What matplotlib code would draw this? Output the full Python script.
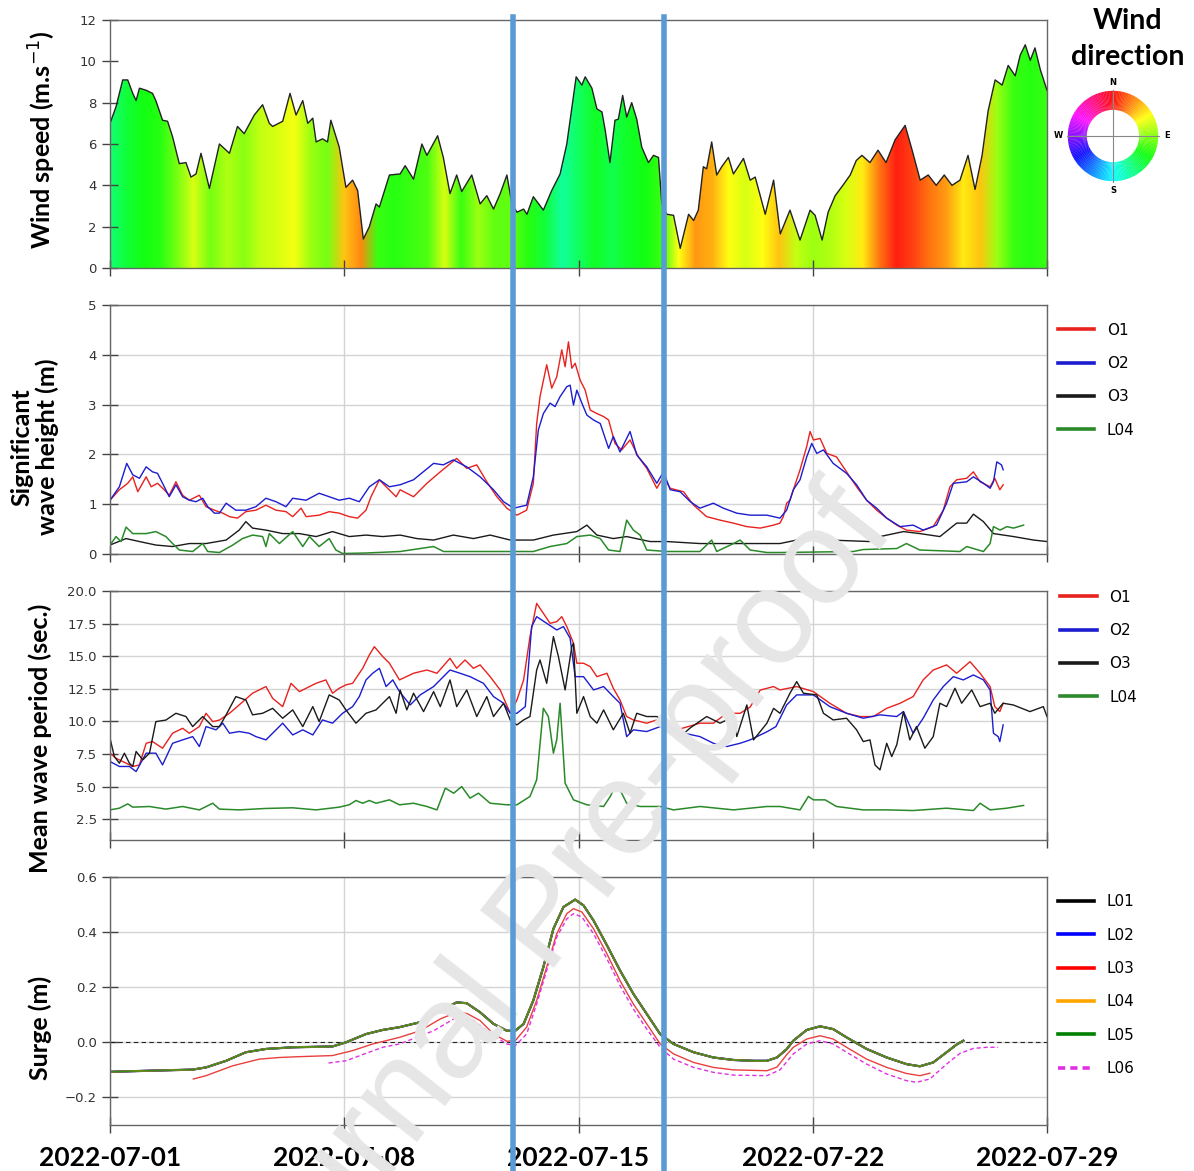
import numpy as np
import matplotlib
matplotlib.use("Agg")
import matplotlib.pyplot as plt
import matplotlib.dates as mdates
from matplotlib.colors import hsv_to_rgb
from matplotlib.patches import Polygon, Wedge
from matplotlib.lines import Line2D

# ---------------- data (days after 2022-07-01 00:00) ----------------
wind_day = [0.0, 0.18, 0.38, 0.53, 0.68, 0.78, 0.88, 1.08, 1.27, 1.37, 1.57, 1.72, 1.87, 2.07, 2.27,
            2.42, 2.57, 2.72, 2.97, 3.27, 3.57, 3.81, 4.01, 4.31, 4.56, 4.76, 4.86, 5.16, 5.38, 5.56,
            5.76, 5.91, 6.06, 6.16, 6.35, 6.5, 6.6, 6.85, 7.05, 7.25, 7.4, 7.57, 7.75, 7.95, 8.05,
            8.35, 8.67, 8.82, 9.07, 9.32, 9.47, 9.79, 9.96, 10.16, 10.36, 10.51, 10.81, 11.06, 11.26,
            11.46, 11.66, 11.86, 12.01, 12.16, 12.36, 12.46, 12.65, 12.95, 13.2, 13.45, 13.65, 13.93,
            14.1, 14.2, 14.4, 14.55, 14.7, 14.8, 14.94, 15.09, 15.19, 15.32, 15.44, 15.59, 15.74,
            15.89, 16.09, 16.24, 16.39, 16.49, 16.64, 16.84, 17.04, 17.29, 17.44, 17.58, 17.73,
            17.83, 17.98, 18.13, 18.28, 18.48, 18.63, 18.93, 19.13, 19.28, 19.58, 19.83, 20.03,
            20.32, 20.62, 20.92, 21.07, 21.28, 21.46, 21.67, 21.9, 22.12, 22.3, 22.47, 22.71, 22.95,
            23.19, 23.46, 23.76, 23.97, 24.21, 24.45, 24.69, 24.93, 25.16, 25.4, 25.64, 25.85, 26.06,
            26.24, 26.45, 26.66, 26.84, 27.05, 27.2, 27.35, 27.5, 27.64, 27.8, 27.9, 28.0]
wind_speed = [7.0, 7.8, 9.1, 9.1, 8.45, 8.1, 8.7, 8.6, 8.45, 8.1, 7.15, 7.1, 6.35, 5.05, 5.1,
              4.4, 4.55, 5.55, 3.85, 6.0, 5.55, 6.85, 6.5, 7.4, 7.9, 7.0, 6.85, 7.1, 8.45, 7.4,
              8.1, 7.0, 7.25, 6.1, 6.25, 6.1, 7.15, 5.85, 3.9, 4.25, 3.75, 1.4, 2.0, 3.1, 2.95,
              4.5, 4.55, 4.95, 4.3, 6.0, 5.45, 6.4, 5.35, 3.6, 4.5, 3.7, 4.5, 3.1, 3.5,
              2.85, 3.6, 4.5, 3.1, 2.7, 2.85, 2.6, 3.45, 2.8, 3.75, 4.55, 6.0, 9.25,
              8.85, 9.25, 8.7, 7.7, 7.55, 6.65, 5.1, 7.15, 7.2, 8.35, 7.3, 8.0, 7.2,
              5.85, 5.1, 5.45, 5.35, 3.1, 2.6, 2.55, 0.95, 2.6, 2.3, 2.8, 4.9,
              4.8, 6.1, 4.5, 4.9, 5.35, 4.55, 5.3, 4.25, 4.4, 2.6, 4.25, 1.65,
              2.8, 1.35, 2.8, 2.55, 1.35, 2.7, 3.5, 4.0, 4.5, 5.2, 5.45, 5.1, 5.7,
              5.1, 6.2, 6.9, 5.7, 4.25, 4.5, 4.0, 4.5, 4.0, 4.25, 5.45, 3.8, 5.45,
              7.6, 9.1, 8.85, 9.8, 9.3, 10.3, 10.8, 10.05, 10.65, 9.6, 9.1, 8.6]

# wind direction (deg from north), every 12 h
dir_day = np.arange(0, 28.5, 0.5)
wind_dir = [145, 130, 120, 115, 95, 70, 95, 80, 90, 75, 70, 62, 85, 95, 45, 30, 110, 115, 110, 105,
            70, 110, 85, 100, 100, 115, 130, 155, 140, 125, 135, 125, 120, 110, 60, 34, 40, 60, 70, 60,
            45, 75, 85, 80, 70, 55, 25, 3, 12, 25, 35, 55, 45, 85, 110, 115, 110]

# significant wave height (m)
hs_o1_day = [0, 0.28, 0.53, 0.68, 0.83, 1.08, 1.23, 1.42, 1.62, 1.77, 1.97, 2.17, 2.37, 2.67, 2.87,
             3.12, 3.37, 3.57, 3.81, 4.06, 4.36, 4.66, 4.96, 5.26, 5.46, 5.71, 5.86, 6.25, 6.55, 6.85,
             7.15, 7.4, 7.65, 7.8, 8.05, 8.25, 8.55, 8.67, 9.07, 9.47, 9.87, 10.36, 10.66, 10.96,
             11.26, 11.56, 11.86, 12.16, 12.45, 12.65, 12.75, 12.85, 13.05, 13.2, 13.35, 13.5, 13.6,
             13.7, 13.8, 13.9, 14.05, 14.2, 14.35, 14.55, 14.75, 14.9, 15.09, 15.29, 15.54, 15.79,
             16.04, 16.34, 16.54, 16.74, 17.14, 17.44, 17.83, 18.23, 18.63, 19.03, 19.43, 19.83,
             20.02, 20.12, 20.22, 20.32, 20.42, 20.62, 20.82, 20.92, 21.02, 21.22, 21.42, 21.71,
             22.01, 22.31, 22.61, 22.91, 23.21, 23.51, 23.8, 24.2, 24.6, 24.9, 25.1, 25.3, 25.6,
             25.8, 26.0, 26.3, 26.44, 26.59, 26.69]
hs_o1 = [1.08, 1.29, 1.42, 1.55, 1.25, 1.55, 1.35, 1.42, 1.29, 1.18, 1.45, 1.18, 1.08, 1.18, 0.95,
         0.88, 0.82, 0.75, 0.72, 0.85, 0.88, 0.98, 0.88, 0.85, 0.75, 0.92, 0.75, 0.78, 0.85, 0.82,
         0.75, 0.72, 0.88, 1.15, 1.49, 1.35, 1.15, 1.29, 1.15, 1.42, 1.65, 1.92, 1.72, 1.79,
         1.45, 1.15, 0.92, 0.78, 0.88, 1.42, 2.62, 3.16, 3.8, 3.33, 3.56, 4.1, 3.76,
         4.26, 3.73, 3.83, 3.49, 3.29, 2.89, 2.82, 2.76, 2.69, 2.22, 2.09, 2.29, 1.95,
         1.72, 1.32, 1.55, 1.32, 1.25, 0.98, 0.75, 0.68, 0.62, 0.55, 0.52, 0.58,
         0.62, 0.75, 1.02, 1.08, 1.29, 1.69, 2.16, 2.46, 2.29, 2.32, 2.02, 1.95,
         1.65, 1.35, 1.08, 0.88, 0.72, 0.58, 0.48, 0.45, 0.55, 0.88, 1.35, 1.49, 1.52,
         1.65, 1.45, 1.35, 1.52, 1.29, 1.39]

hs_o2_day = [0, 0.28, 0.5, 0.68, 0.88, 1.08, 1.27, 1.42, 1.57, 1.77, 1.97, 2.17, 2.37, 2.57, 2.77,
             2.92, 3.12, 3.27, 3.47, 3.76, 4.06, 4.36, 4.66, 4.96, 5.26, 5.46, 5.86, 6.25, 6.55,
             6.85, 7.15, 7.45, 7.75, 8.05, 8.35, 8.67, 9.07, 9.67, 9.96, 10.26, 10.66, 11.06, 11.46,
             11.76, 12.06, 12.45, 12.65, 12.8, 12.95, 13.15, 13.3, 13.45, 13.65, 13.75, 13.85, 13.95,
             14.1, 14.25, 14.45, 14.65, 14.9, 15.04, 15.24, 15.54, 15.74, 16.04, 16.34, 16.54, 16.74,
             17.04, 17.34, 17.63, 18.03, 18.33, 18.73, 19.13, 19.63, 20.02, 20.22, 20.42, 20.62,
             20.82, 20.97, 21.12, 21.32, 21.61, 22.01, 22.31, 22.61, 22.91, 23.21, 23.61, 24.0, 24.3,
             24.7, 25.0, 25.2, 25.6, 25.8, 26.1, 26.3, 26.4, 26.5, 26.64, 26.69]
hs_o2 = [1.08, 1.35, 1.82, 1.59, 1.52, 1.75, 1.65, 1.62, 1.42, 1.15, 1.39, 1.15, 1.08, 1.05, 1.12,
         0.95, 0.82, 0.82, 1.02, 0.88, 0.88, 0.95, 1.12, 1.05, 0.95, 1.12, 1.08, 1.22, 1.15,
         1.08, 1.12, 1.05, 1.35, 1.49, 1.35, 1.39, 1.49, 1.82, 1.79, 1.89, 1.75, 1.55, 1.29,
         1.05, 0.92, 0.98, 1.55, 2.49, 2.82, 3.03, 2.96, 3.16, 3.36, 3.39, 2.99, 3.29,
         3.03, 2.79, 2.69, 2.62, 2.12, 2.36, 2.05, 2.46, 1.99, 1.75, 1.42, 1.65, 1.29,
         1.25, 1.05, 0.92, 1.02, 0.92, 0.82, 0.78, 0.78, 0.72, 0.88, 1.29, 1.49,
         1.95, 2.22, 2.02, 2.09, 1.82, 1.62, 1.39, 1.08, 0.92, 0.72, 0.55, 0.58, 0.48,
         0.58, 1.02, 1.42, 1.45, 1.55, 1.42, 1.32, 1.45, 1.85, 1.79, 1.69]

hs_o3_day = [0, 0.48, 0.88, 1.37, 1.87, 2.37, 2.87, 3.47, 3.86, 4.06, 4.26, 4.66, 5.16, 5.66, 6.16,
             6.65, 7.15, 7.65, 8.15, 8.67, 9.17, 9.67, 10.26, 10.86, 11.36, 11.96, 12.65, 13.25,
             13.95, 14.25, 14.55, 15.04, 15.44, 16.14, 16.64, 17.63, 18.63, 19.63, 20.02, 21.02,
             21.51, 22.71, 23.01, 23.71, 24.2, 24.8, 25.3, 25.6, 25.8, 26.1, 26.4, 27.0, 27.6, 28.0]
hs_o3 = [0.18, 0.31, 0.25, 0.18, 0.15, 0.21, 0.21, 0.28, 0.48, 0.65, 0.52, 0.48, 0.41, 0.41, 0.35,
         0.45, 0.35, 0.38, 0.35, 0.38, 0.31, 0.28, 0.38, 0.31, 0.38, 0.28, 0.28, 0.38,
         0.45, 0.58, 0.38, 0.31, 0.35, 0.25, 0.25, 0.21, 0.21, 0.21, 0.21, 0.35,
         0.28, 0.25, 0.35, 0.45, 0.41, 0.35, 0.62, 0.62, 0.8, 0.65, 0.41, 0.35, 0.28, 0.25]

hs_l04_day = [0, 0.18, 0.33, 0.48, 0.68, 1.08, 1.37, 1.67, 1.87, 2.07, 2.47, 2.77, 2.92, 3.27, 3.67,
              3.96, 4.26, 4.56, 4.66, 4.76, 5.06, 5.46, 5.76, 5.96, 6.25, 6.55, 6.75, 6.95, 7.65,
              8.67, 9.67, 9.97, 11.16, 12.65, 13.15, 13.65, 13.95, 14.35, 14.65, 14.9, 15.24, 15.44,
              15.64, 15.84, 16.04, 16.64, 17.63, 17.98, 18.13, 18.63, 18.83, 19.13, 19.63, 20.02,
              22.21, 22.51, 23.51, 23.8, 24.2, 25.4, 25.6, 26.1, 26.3, 26.4, 26.6, 26.8, 27.0, 27.3]
hs_l04 = [0.18, 0.35, 0.25, 0.54, 0.41, 0.41, 0.45, 0.35, 0.21, 0.08, 0.05, 0.21, 0.05, 0.03, 0.18,
          0.31, 0.38, 0.35, 0.15, 0.41, 0.21, 0.45, 0.15, 0.35, 0.15, 0.31, 0.08, 0.01, 0.02,
          0.05, 0.15, 0.05, 0.05, 0.05, 0.15, 0.21, 0.35, 0.38, 0.31, 0.08, 0.05, 0.68,
          0.48, 0.38, 0.08, 0.05, 0.05, 0.28, 0.05, 0.21, 0.28, 0.08, 0.03, 0.03,
          0.05, 0.09, 0.11, 0.21, 0.08, 0.05, 0.15, 0.05, 0.21, 0.55, 0.48, 0.55, 0.52, 0.58]

# mean wave period (s)
tm_o1_day = [0, 0.18, 0.38, 0.68, 0.88, 1.08, 1.27, 1.57, 1.87, 2.17, 2.37, 2.67, 2.87, 3.07, 3.27,
             3.57, 3.86, 4.26, 4.66, 4.86, 5.16, 5.41, 5.66, 5.86, 6.16, 6.45, 6.65, 6.85, 7.05,
             7.25, 7.55, 7.75, 7.9, 8.15, 8.35, 8.65, 9.07, 9.47, 9.77, 10.16, 10.36, 10.61, 10.86,
             11.06, 11.36, 11.66, 11.96, 12.16, 12.36, 12.55, 12.75, 12.95, 13.15, 13.35, 13.5,
             13.65, 13.85, 13.95, 14.15, 14.35, 14.55, 14.85, 15.04, 15.24, 15.44, 15.64, 16.04,
             16.34, 16.64, 16.94, 17.63, 18.03, 18.43, 18.83, 19.13, 19.43, 19.83, 20.02, 20.52,
             21.02, 21.51, 22.01, 22.41, 22.81, 23.21, 23.61, 24.0, 24.3, 24.6, 25.0, 25.3, 25.7,
             26.0, 26.3, 26.44, 26.59, 26.69]
tm_o1 = [7.56, 7.17, 6.92, 6.54, 6.66, 8.32, 8.45, 7.94, 9.09, 9.47, 9.09, 9.6, 10.62, 9.98, 10.1,
         10.62, 11.26, 12.16, 12.67, 11.77, 11.13, 12.92, 12.28, 12.54, 12.92, 13.18, 12.16, 12.54, 12.8,
         12.92, 14.07, 15.09, 15.73, 14.97, 14.46, 13.18, 13.69, 13.94, 13.69, 14.84, 14.07, 14.71, 14.07,
         14.33, 13.43, 12.41, 10.62, 11.64, 13.18, 16.5, 19.05, 18.29, 17.52, 17.65, 18.03,
         17.27, 15.99, 14.46, 14.46, 14.2, 13.43, 13.69, 12.54, 11.64, 10.37, 10.11, 9.86,
         10.11, 9.6, 9.35, 9.86, 9.86, 10.62, 10.62, 11.1, 12.4, 12.67, 12.41, 12.67,
         12.28, 11.39, 10.62, 10.37, 10.37, 11.0, 11.39, 11.9, 13.18, 13.94, 14.33, 13.69, 14.58,
         13.69, 12.67, 11.13, 10.75, 11.39]

tm_o2_day = [0, 0.28, 0.58, 0.78, 1.08, 1.37, 1.57, 1.87, 2.17, 2.47, 2.67, 2.87, 3.17, 3.37, 3.57,
             3.86, 4.16, 4.36, 4.66, 4.86, 5.16, 5.46, 5.76, 6.06, 6.35, 6.65, 6.95, 7.25, 7.45,
             7.65, 7.85, 8.05, 8.25, 8.45, 8.65, 8.97, 9.27, 9.67, 10.16, 10.46, 10.76, 11.16, 11.46,
             11.76, 11.96, 12.16, 12.41, 12.6, 12.75, 13.05, 13.35, 13.55, 13.75, 13.9, 14.15, 14.45,
             14.75, 15.04, 15.24, 15.44, 15.64, 16.04, 16.44, 16.64, 17.14, 17.63, 18.03, 18.43,
             18.83, 19.13, 19.63, 19.9, 20.22, 20.52, 21.02, 21.51, 22.01, 22.51, 23.01, 23.51, 23.71,
             24.0, 24.3, 24.6, 24.9, 25.2, 25.5, 25.8, 26.1, 26.3, 26.4, 26.54, 26.59, 26.69]
tm_o2 = [6.92, 6.54, 6.54, 6.15, 7.56, 7.56, 6.66, 8.32, 8.58, 8.83, 8.07, 9.6, 9.35, 9.86, 9.09,
         9.22, 9.09, 8.83, 8.58, 9.09, 9.86, 8.96, 9.35, 8.96, 10.11, 9.86, 10.62, 11.13, 11.9,
         13.18, 13.69, 14.07, 12.67, 13.18, 12.28, 11.26, 12.03, 12.67, 13.94, 13.69, 13.43, 12.92, 11.9,
         11.39, 10.62, 10.62, 11.13, 17.27, 18.03, 17.52, 17.01, 17.27, 16.37, 13.43, 13.43, 12.41,
         12.67, 11.9, 11.39, 8.83, 9.35, 9.22, 9.6, 9.35, 9.1, 8.83, 8.32, 8.07,
         8.32, 8.58, 9.2, 9.6, 11.26, 12.03, 12.03, 11.13, 10.62, 10.24, 10.5, 10.37, 10.75,
         9.09, 10.24, 11.64, 12.67, 13.43, 13.18, 13.56, 13.18, 12.41, 9.09, 8.83, 8.45, 9.73]

tm_o3_day = [0, 0.13, 0.28, 0.43, 0.58, 0.68, 0.78, 0.98, 1.18, 1.37, 1.67, 1.97, 2.27, 2.47, 2.77,
             3.07, 3.27, 3.47, 3.76, 4.06, 4.26, 4.56, 4.86, 5.16, 5.46, 5.76, 6.06, 6.25, 6.55,
             6.85, 7.05, 7.35, 7.65, 7.95, 8.35, 8.55, 8.67, 8.87, 9.07, 9.37, 9.67, 9.87, 10.16,
             10.36, 10.66, 10.96, 11.26, 11.46, 11.76, 11.96, 12.16, 12.36, 12.55, 12.75, 12.85,
             13.05, 13.25, 13.4, 13.6, 13.8, 13.85, 13.95, 14.15, 14.35, 14.55, 14.75, 15.04, 15.34,
             15.54, 15.74, 16.04, 16.34, 16.64, 17.04, 17.34, 17.83, 18.23, 18.63, 18.73, 19.03,
             19.23, 19.63, 19.83, 20.02, 20.32, 20.52, 20.72, 21.12, 21.32, 21.61, 22.01, 22.31,
             22.51, 22.71, 22.86, 23.01, 23.21, 23.36, 23.51, 23.71, 23.9, 24.1, 24.35, 24.6, 24.8,
             25.0, 25.25, 25.45, 25.75, 26.0, 26.3, 26.44, 26.69, 26.99, 27.49, 27.89, 28.0]
tm_o3 = [8.71, 7.3, 6.79, 7.56, 6.79, 6.54, 7.69, 7.05, 7.56, 9.98, 10.1, 10.62, 10.37, 9.6, 10.37,
         9.6, 9.6, 10.5, 11.9, 11.64, 10.5, 10.62, 11.0, 10.24, 10.88, 9.6, 11.13, 9.98, 12.03,
         11.64, 10.88, 9.86, 10.62, 10.88, 11.9, 10.62, 12.41, 10.88, 12.16, 10.75, 12.28, 11.13, 13.18,
         11.13, 12.41, 10.37, 11.9, 10.37, 11.39, 10.11, 9.73, 10.11, 10.37, 13.94, 14.71,
         12.92, 16.5, 14.97, 12.41, 15.73, 15.99, 10.62, 11.9, 10.37, 9.86, 10.88, 9.35, 10.62,
         9.09, 10.62, 10.37, 10.37, 9.86, 8.83, 9.5, 10.37, 9.86, 10.37, 8.83, 11.26,
         8.58, 9.86, 11.0, 10.62, 12.16, 13.05, 12.16, 12.03, 10.62, 10.11, 10.24, 9.35,
         8.45, 8.58, 6.66, 6.28, 8.32, 7.3, 8.2, 10.75, 8.58, 9.6, 7.94, 8.83, 11.39,
         11.13, 12.54, 11.39, 12.41, 11.13, 11.39, 10.62, 11.39, 11.26, 10.75, 11.13, 10.37]

tm_l04_day = [0, 0.28, 0.53, 0.68, 1.18, 1.67, 2.17, 2.67, 3.07, 3.27, 3.86, 4.66, 5.46, 6.16, 6.85,
              7.15, 7.35, 7.55, 7.75, 7.95, 8.35, 8.65, 9.07, 9.47, 9.77, 10.02, 10.27, 10.51, 10.76,
              11.01, 11.36, 11.86, 12.16, 12.55, 12.75, 12.95, 13.1, 13.25, 13.35, 13.45, 13.6, 13.85,
              14.25, 14.75, 14.95, 15.14, 15.44, 15.84, 16.44, 16.84, 17.63, 18.63, 19.63, 20.02,
              20.62, 20.87, 21.02, 21.37, 21.71, 22.51, 23.21, 24.0, 25.0, 25.8, 26.0, 26.3, 26.8, 27.3]
tm_l04 = [3.21, 3.34, 3.67, 3.42, 3.47, 3.27, 3.47, 3.21, 3.72, 3.27, 3.21, 3.32, 3.37, 3.21, 3.42,
          3.6, 3.93, 3.72, 3.93, 3.72, 3.98, 3.6, 3.72, 3.47, 3.21, 4.88, 4.49, 5.0, 4.11,
          4.49, 3.72, 3.6, 3.6, 4.24, 5.51, 11.0, 10.37, 7.56, 8.58, 11.39, 5.26, 3.98,
          3.6, 3.47, 4.24, 5.26, 3.72, 3.47, 3.47, 3.21, 3.47, 3.21, 3.47, 3.47,
          3.21, 4.24, 3.98, 3.98, 3.47, 3.21, 3.21, 3.16, 3.34, 3.16, 3.72, 3.21, 3.34, 3.55]

# surge (m); L01, L02 and L04 lie under L05
surge_l05_day = [0, 1.17, 2.47, 2.87, 3.47, 4.06, 4.66, 5.46, 6.25, 6.65, 7.05, 7.65, 8.15, 8.65, 9.27,
                 9.87, 10.36, 10.66, 11.06, 11.46, 11.86, 12.11, 12.36, 12.65, 12.95, 13.25, 13.55,
                 13.9, 14.15, 14.45, 14.85, 15.24, 15.64, 16.04, 16.44, 16.84, 17.44, 18.03, 18.63,
                 19.23, 19.63, 19.93, 20.22, 20.42, 20.82, 21.22, 21.61, 22.01, 22.61, 23.21, 23.8,
                 24.2, 24.6, 25.0, 25.3, 25.5]
surge_l05 = [-0.107, -0.103, -0.099, -0.091, -0.067, -0.036, -0.024, -0.018, -0.016, -0.015, 0.0, 0.03,
             0.045, 0.055, 0.073, 0.115, 0.145, 0.142, 0.109, 0.067, 0.042, 0.042, 0.067, 0.152, 0.273,
             0.412, 0.491, 0.518, 0.497, 0.442, 0.352, 0.261, 0.176, 0.103, 0.03, -0.006, -0.036,
             -0.055, -0.064, -0.067, -0.067, -0.055, -0.025, 0.006, 0.045, 0.058, 0.048, 0.018,
             -0.024, -0.055, -0.079, -0.087, -0.073, -0.036, -0.008, 0.006]
surge_l01 = surge_l05
surge_l02 = surge_l05
surge_l04 = surge_l05

surge_l03_day = [2.49, 2.87, 3.67, 4.46, 5.06, 5.66, 6.65, 7.25, 7.85, 8.45, 8.65, 9.27, 9.87, 10.36,
                 10.66, 11.06, 11.46, 11.86, 12.11, 12.45, 12.75, 13.05, 13.35, 13.65, 13.85, 14.1,
                 14.45, 14.85, 15.24, 15.64, 16.04, 16.44, 16.84, 17.44, 18.03, 18.63, 19.63, 19.93,
                 20.22, 20.42, 20.82, 21.22, 21.61, 22.01, 22.61, 23.21, 23.8, 24.2, 24.5]
surge_l03 = [-0.133, -0.121, -0.085, -0.061, -0.055, -0.052, -0.048, -0.03, -0.006, 0.012, 0.018, 0.042,
             0.085, 0.109, 0.105, 0.079, 0.03, 0.004, 0.006, 0.055, 0.152, 0.273, 0.394, 0.467, 0.485,
             0.473, 0.412, 0.321, 0.224, 0.139, 0.067, -0.006, -0.042, -0.073, -0.091, -0.1, -0.103,
             -0.09, -0.045, -0.018, 0.012, 0.024, 0.012, -0.018, -0.061, -0.091, -0.113, -0.121, -0.112]

surge_l06_day = [6.53, 7.05, 7.65, 8.15, 8.65, 9.67, 10.36, 10.86, 11.46, 11.86, 12.11, 12.45, 12.75,
                 13.05, 13.35, 13.65, 13.85, 14.1, 14.45, 14.85, 15.24, 15.64, 16.04, 16.44, 16.84,
                 17.44, 18.03, 18.63, 19.63, 20.02, 20.42, 20.82, 21.22, 21.61, 22.01, 22.61, 23.21,
                 23.8, 24.1, 24.5, 25.0, 25.4, 25.8, 26.2, 26.54]
surge_l06 = [-0.075, -0.067, -0.04, -0.018, -0.006, 0.042, 0.091, 0.079, 0.024, -0.006, -0.012, 0.03,
             0.139, 0.261, 0.382, 0.448, 0.467, 0.455, 0.394, 0.303, 0.206, 0.121, 0.048, -0.018, -0.061,
             -0.091, -0.109, -0.119, -0.121, -0.1, -0.042, -0.006, 0.006, -0.006, -0.036, -0.079, -0.115,
             -0.139, -0.145, -0.133, -0.079, -0.04, -0.022, -0.018, -0.018]

tick_dates = ["2022-07-01", "2022-07-08", "2022-07-15", "2022-07-22", "2022-07-29"]
event_days = [12.05, 16.55]

# ---------------- figure ----------------
W, H = 1194, 1171
fig = plt.figure(figsize=(W / 100, H / 100), dpi=100)
t0 = mdates.date2num(np.datetime64("2022-07-01T00:00"))


def tx(days):
    return t0 + np.asarray(days, dtype=float)


def px_axes(left, top, right, bottom):
    return fig.add_axes([left / W, 1 - bottom / H, (right - left) / W, (bottom - top) / H])


ax1 = px_axes(110, 20, 1047, 268)
ax2 = px_axes(110, 305, 1047, 554)
ax3 = px_axes(110, 591, 1047, 840)
ax4 = px_axes(110, 877, 1047, 1125)
axes = [ax1, ax2, ax3, ax4]

xticks = [mdates.date2num(np.datetime64(d)) for d in tick_dates]
for ax in axes:
    ax.set_xlim(tx(0), tx(28))
    ax.set_xticks(xticks)
    ax.tick_params(direction="inout", length=12, width=1, color="#444444",
                   labelsize=9.5, labelcolor="#333333")
    ax.tick_params(axis="x", labelbottom=False)
    for sp in ax.spines.values():
        sp.set_color("#666666")
        sp.set_linewidth(1)
for ax in axes[1:]:
    ax.grid(True, color="#d4d4d4", linewidth=1)
    ax.set_axisbelow(True)

SAT = 0.93

# wind speed coloured by direction
wx = tx(wind_day)
rgb = hsv_to_rgb(np.stack([np.array(wind_dir) / 360.0,
                           np.full(len(wind_dir), SAT),
                           np.full(len(wind_dir), 1.0)], axis=1))[None, :, :]
im = ax1.imshow(rgb, extent=[tx(dir_day[0] - 0.25), tx(dir_day[-1] + 0.25), 0, 12],
                aspect="auto", interpolation="bilinear", origin="lower")
verts = [(wx[0], 0)] + list(zip(wx, wind_speed)) + [(wx[-1], 0)]
clip = Polygon(verts, closed=True, facecolor="none", edgecolor="none", transform=ax1.transData)
ax1.add_patch(clip)
im.set_clip_path(clip)
ax1.plot(wx, wind_speed, color="#222222", lw=1)
ax1.set_xlim(tx(0), tx(28))
ax1.set_ylim(0, 12)
ax1.set_yticks(range(0, 13, 2))

c_o1, c_o2, c_o3, c_l4 = "#e8221e", "#1c1cd0", "#1a1a1a", "#2a8a2a"

ax2.plot(tx(hs_o3_day), hs_o3, color=c_o3, lw=1)
ax2.plot(tx(hs_l04_day), hs_l04, color=c_l4, lw=1.1)
ax2.plot(tx(hs_o1_day), hs_o1, color=c_o1, lw=1)
ax2.plot(tx(hs_o2_day), hs_o2, color=c_o2, lw=1)
ax2.set_ylim(0, 5)
ax2.set_yticks(range(0, 6))

ax3.plot(tx(tm_o1_day), tm_o1, color=c_o1, lw=1)
ax3.plot(tx(tm_o2_day), tm_o2, color=c_o2, lw=1)
ax3.plot(tx(tm_o3_day), tm_o3, color=c_o3, lw=1)
ax3.plot(tx(tm_l04_day), tm_l04, color=c_l4, lw=1.1)
ax3.set_ylim(0.9, 20)
ax3.set_yticks([2.5, 5, 7.5, 10, 12.5, 15, 17.5, 20])
ax3.set_yticklabels(["2.5", "5.0", "7.5", "10.0", "12.5", "15.0", "17.5", "20.0"])

ax4.axhline(0, color="#222222", lw=0.8, ls=(0, (4, 3)))
ax4.plot(tx(surge_l05_day), surge_l01, color="black", lw=1.6)
ax4.plot(tx(surge_l05_day), surge_l02, color="blue", lw=1.4)
ax4.plot(tx(surge_l05_day), surge_l04, color="orange", lw=1.3)
ax4.plot(tx(surge_l05_day), surge_l05, color="#3c8a1c", lw=1.1)
ax4.plot(tx(surge_l03_day), surge_l03, color="#e84040", lw=1)
ax4.plot(tx(surge_l06_day), surge_l06, color="#e030e0", lw=1, ls=(0, (3, 2)))
ax4.set_ylim(-0.3, 0.6)
ax4.set_yticks([-0.2, 0, 0.2, 0.4, 0.6])
ax4.set_yticklabels(["\u22120.2", "0.0", "0.2", "0.4", "0.6"])
ax4.tick_params(axis="x", labelbottom=True, labelsize=19, labelcolor="black", pad=9)
ax4.set_xticklabels(tick_dates, fontfamily="Lato", fontweight="bold")

# legends
leg_kw = dict(loc="upper left", frameon=False, fontsize=11, handlelength=2.4,
              labelspacing=1.2, handletextpad=0.8, borderaxespad=0)


def lh(color, ls="-"):
    return Line2D([], [], color=color, lw=2.6, ls=ls)


names = ["O1", "O2", "O3", "L04"]
ax2.legend([lh(c_o1), lh(c_o2), lh(c_o3), lh(c_l4)], names,
           bbox_to_anchor=(1.005, 0.954), **leg_kw)
ax3.legend([lh(c_o1), lh(c_o2), lh(c_o3), lh(c_l4)], names,
           bbox_to_anchor=(1.0075, 1.03), **leg_kw)
ax4.legend([lh("black"), lh("blue"), lh("red"), lh("orange"), lh("green"),
            lh("#e030e0", (0, (2, 1.4)))],
           ["L01", "L02", "L03", "L04", "L05", "L06"],
           bbox_to_anchor=(1.005, 0.955), **leg_kw)

# y labels
lab_kw = dict(rotation=90, ha="center", va="center", fontfamily="Lato",
              fontweight="bold", fontsize=18)
fig.text(42 / W, 1 - 140 / H, "Wind speed (m.s$^{-1}$)", **lab_kw)
fig.text(35 / W, 1 - 447 / H, "Significant\nwave height (m)", linespacing=1.1, **lab_kw)
fig.text(40 / W, 1 - 738 / H, "Mean wave period (sec.)", **lab_kw)
fig.text(40 / W, 1 - 1028 / H, "Surge (m)", **lab_kw)

# wind direction wheel
fig.text(1128 / W, 1 - 21 / H, "Wind", ha="center", va="center",
         fontfamily="Lato", fontweight="bold", fontsize=20.5)
fig.text(1128 / W, 1 - 57 / H, "direction", ha="center", va="center",
         fontfamily="Lato", fontweight="bold", fontsize=20.5)
axw = px_axes(1052, 75, 1174, 197)
axw.set_xlim(-1.35, 1.35)
axw.set_ylim(-1.35, 1.35)
axw.set_aspect("equal")
axw.axis("off")
for d in range(0, 360, 2):
    col = hsv_to_rgb([d / 360.0, SAT, 1.0])
    axw.add_patch(Wedge((0, 0), 1.0, 90 - d - 1.2, 90 - d + 1.2, width=0.42,
                        facecolor=col, edgecolor="none"))
axw.plot([-1.02, 1.02], [0, 0], color="#888888", lw=0.8)
axw.plot([0, 0], [-1.02, 1.02], color="#888888", lw=0.8)
for s, (x, y) in {"N": (0, 1.18), "S": (0, -1.2), "E": (1.2, 0), "W": (-1.2, 0)}.items():
    axw.text(x, y, s, ha="center", va="center", fontsize=6, fontweight="bold")

# watermark
fig.text(545 / W, 1 - 922 / H, "Journal Pre-proof", rotation=52, fontsize=98,
         color="#e6e6e6", ha="center", va="center", fontfamily="Liberation Sans",
         rotation_mode="anchor", zorder=5)

# event lines
for d in event_days:
    xf = (110 + d * 937 / 28) / W
    fig.add_artist(Line2D([xf, xf], [0, 1 - 17 / H], transform=fig.transFigure,
                          color="#5b9bd5", lw=4, zorder=6))

fig.savefig("out.png", dpi=100)
